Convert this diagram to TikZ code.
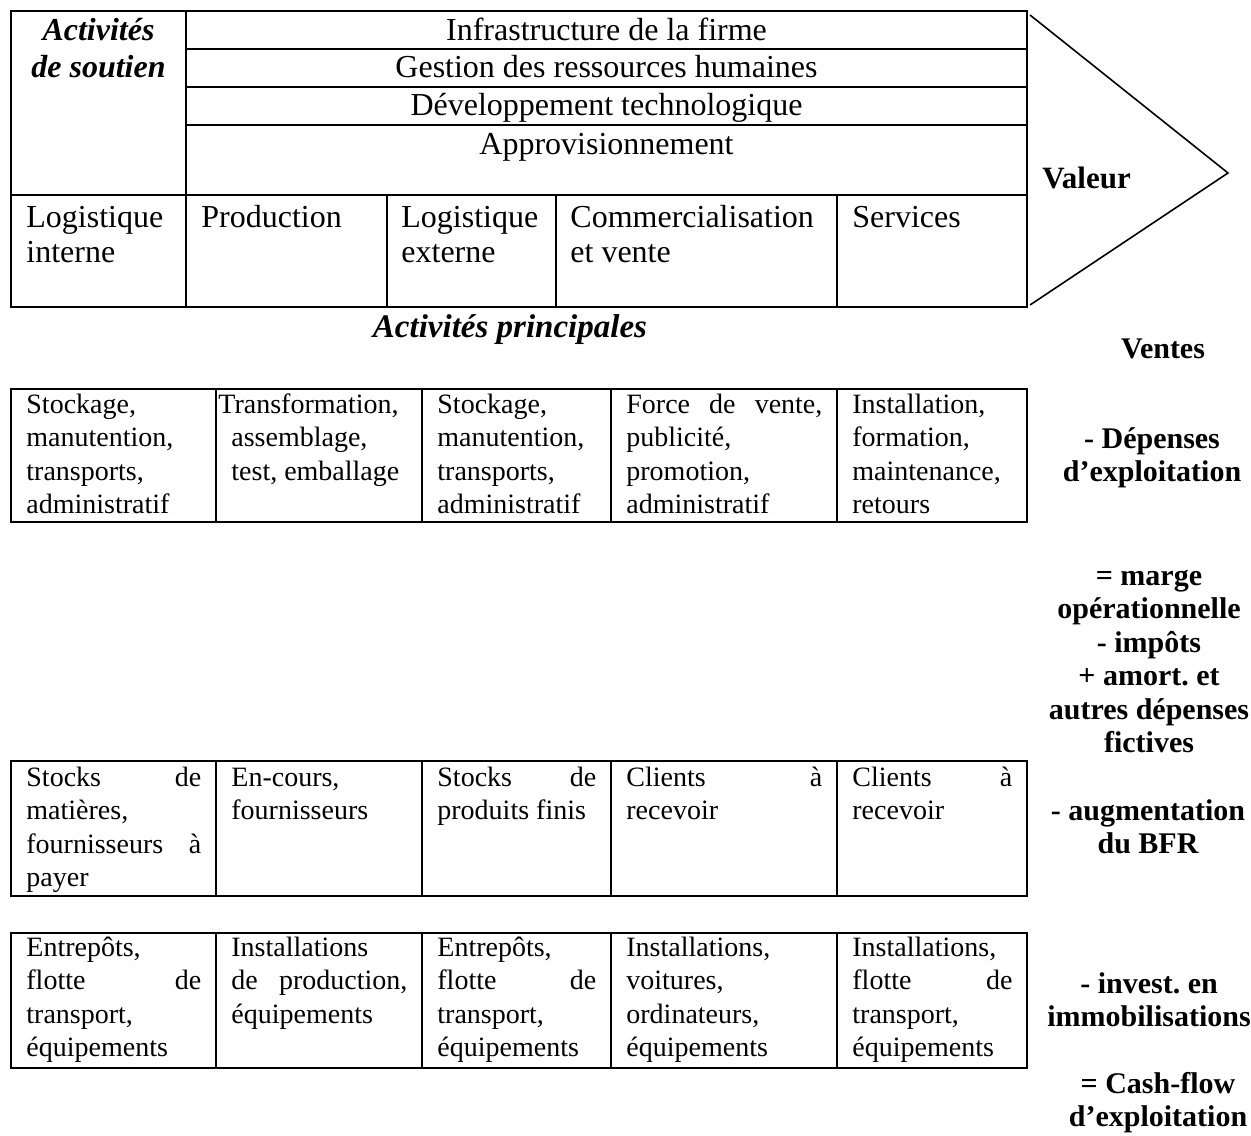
\documentclass[tikz,border=0pt]{standalone}
\usepackage{fontspec}
\setmainfont{Liberation Serif}
% stretch that beats the ragged-right glue, for justified lines
\newcommand\spread{\hskip 0pt plus 1filll\relax}
\begin{document}
\frenchspacing
\begin{tikzpicture}[x=0.5pt,y=-0.5pt,
  rule/.style={line width=1.3pt},
  chevron/.style={line width=0.8pt},
  bar/.style={font=\fontsize{16}{18}\selectfont, inner sep=0pt, anchor=base},
  head/.style={font=\bfseries\itshape\fontsize{16}{18.5}\selectfont, inner sep=0pt,
    anchor=north, align=flush center, text width=85pt, execute at begin node=\strut},
  band/.style={font=\fontsize{16}{17.5}\selectfont, inner sep=0pt,
    anchor=north west, align=flush left, text width=#1, execute at begin node=\strut},
  cell/.style={font=\fontsize{14}{16.75}\selectfont, inner sep=0pt,
    anchor=north west, align=flush left, text width=#1, execute at begin node=\strut},
  side/.style={font=\bfseries\fontsize{15}{16.75}\selectfont, inner sep=0pt,
    anchor=north, align=flush center, text width=110pt, execute at begin node=\strut},
]
\useasboundingbox (0,0) rectangle (1251,1135);

% ---- value chain ----
\draw[rule] (11,11) rectangle (1027,307);
\draw[rule] (186,11) -- (186,307);
\foreach \y in {49,87,125} \draw[rule] (186,\y) -- (1027,\y);
\draw[rule] (11,195) -- (1027,195);
\foreach \x in {387,556,837} \draw[rule] (\x,195) -- (\x,307);
\draw[chevron] (1030,15) -- (1228,173) -- (1030,305);

\node[head] (sout) at (98.5,14.1) {Activités\\de soutien};
\node[bar] (inf) at (606.5,40) {Infrastructure de la firme};
\node[bar] (grh) at (606.5,77) {Gestion des ressources humaines};
\node[bar] (dev) at (606.5,115) {Développement technologique};
\node[bar] (app) at (606.5,154) {Approvisionnement};

\node[band=80pt] (li) at (26,202.5) {Logistique\\interne};
\node[band=85pt] (pr) at (201,202.5) {Production};
\node[band=80pt] (le) at (401,202.5) {Logistique\\externe};
\node[band=130pt] (cv) at (570,202.5) {Commercialisation\\et vente};
\node[band=80pt] (sv) at (852,202.5) {Services};

\node[font=\bfseries\fontsize{15.5}{18}\selectfont, inner sep=0pt, anchor=base west]
  (val) at (1042,188) {Valeur};
\node[font=\bfseries\itshape\fontsize{16.5}{18}\selectfont, inner sep=0pt, anchor=base]
  (princ) at (510,337) {Activités principales};

% ---- detail tables ----
\foreach \t/\b in {389/522, 761/896, 933/1068} {
  \draw[rule] (11,\t) rectangle (1027,\b);
  \foreach \x in {216,422,611,837} \draw[rule] (\x,\t) -- (\x,\b);
}

% operating expenses
\node[cell=87.5pt] (ea) at (26,389.5) {Stockage,\\manutention,\\transports,\\administratif};
\node[cell=88pt] (eb) at (231,389.5) {\hspace*{-6.5pt}Transformation,\\assemblage,\\test, emballage};
\node[cell=79.5pt] (ec) at (437,389.5) {Stockage,\\manutention,\\transports,\\administratif};
\node[cell=98pt] (ed) at (626,389.5) {Force\spread de\spread vente,\\publicité,\\promotion,\\administratif};
\node[cell=80pt] (ee) at (852,389.5) {Installation,\\formation,\\maintenance,\\retours};

% working capital
\node[cell=87.5pt] (wa) at (26,762.5) {Stocks\spread de\\matières,\\fournisseurs\spread à\\payer};
\node[cell=88pt] (wb) at (231,762.5) {En-cours,\\fournisseurs};
\node[cell=79.5pt] (wc) at (437,762.5) {Stocks\spread de\\produits finis};
\node[cell=98pt] (wd) at (626,762.5) {Clients\spread à\\recevoir};
\node[cell=80pt] (we) at (852,762.5) {Clients\spread à\\recevoir};

% fixed assets
\node[cell=87.5pt] (fa) at (26,932.5) {Entrepôts,\\flotte\spread de\\transport,\\équipements};
\node[cell=88pt] (fb) at (231,932.5) {Installations\\de\spread production,\\équipements};
\node[cell=79.5pt] (fc) at (437,932.5) {Entrepôts,\\flotte\spread de\\transport,\\équipements};
\node[cell=98pt] (fd) at (626,932.5) {Installations,\\voitures,\\ordinateurs,\\équipements};
\node[cell=80pt] (fe) at (852,932.5) {Installations,\\flotte\spread de\\transport,\\équipements};

% ---- cash-flow column ----
\node[font=\bfseries\fontsize{15}{16.75}\selectfont, inner sep=0pt, anchor=base]
  (ventes) at (1163,358) {Ventes};
\node[side] (dep) at (1152,424.5) {- Dépenses\\d’exploitation};
\node[side] (marge) at (1149,561.5) {= marge\\opérationnelle\\- impôts\\+ amort. et\\autres dépenses\\fictives};
\node[side] (bfr) at (1148,796.5) {- augmentation\\du BFR};
\node[side] (inv) at (1149,969.5) {- invest. en\\immobilisations};
\node[side] (cf) at (1158,1069.5) {= Cash-flow\\d’exploitation};
\end{tikzpicture}
\end{document}
